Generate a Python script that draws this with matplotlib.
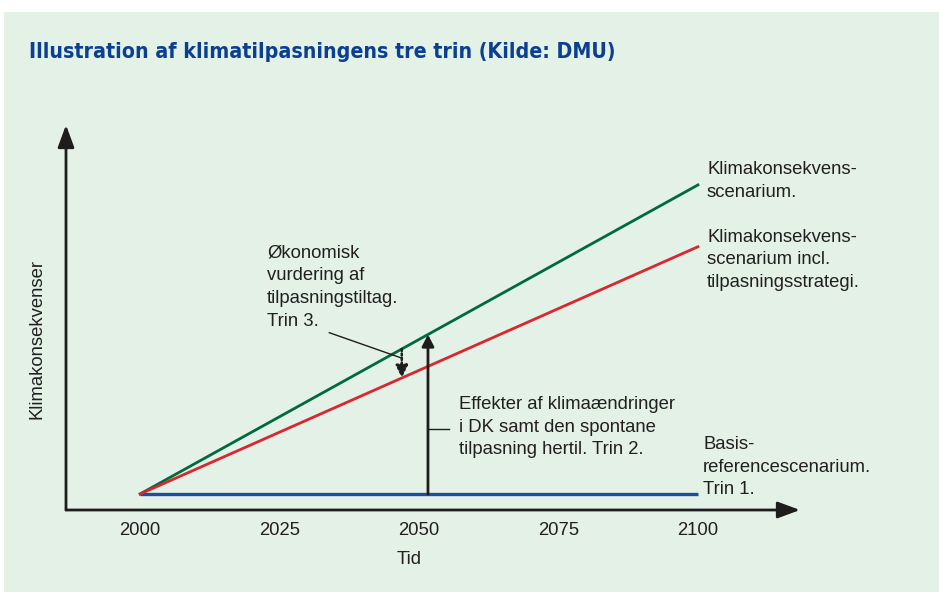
import matplotlib.pyplot as plt
from matplotlib.patches import Rectangle

# data
years = [2000, 2100]
basis = [0, 0]
klima = [0, 100]
klima_strategi = [0, 80]
xticks = [2000, 2025, 2050, 2075, 2100]
trin2_year = 2051.6
trin3_year = 2046.9

BG = "#e3f1e7"
GREEN = "#00693e"
RED = "#d8272f"
BLUE = "#1b4f9c"
AX = "#1e1c1d"
TXT = "#231f20"
TITLE = "#0b3f91"
FS = 13.3

plt.rcParams["font.family"] = ["Liberation Sans", "DejaVu Sans"]

W, H = 939, 592
fig = plt.figure(figsize=(W / 100, H / 100), dpi=100)
fig.patch.set_facecolor("white")
fig.patches.append(Rectangle((4 / W, 0), 1, 1 - 12 / H, transform=fig.transFigure,
                             facecolor=BG, edgecolor="none", zorder=-10))


def fx(x, y):
    # pixel position -> figure fraction
    return x / W, 1 - y / H


fig.text(*fx(29, 52), "Illustration af klimatilpasningens tre trin (Kilde: DMU)",
         fontsize=15.3, fontweight="bold", color=TITLE, va="center", ha="left",
         family="DejaVu Sans", fontstretch="condensed")

# axes: pixel box x 66..800, y 125..510
ax = fig.add_axes([66 / W, 1 - 510 / H, (800 - 66) / W, (510 - 125) / H])
ax.set_zorder(5)
ax.patch.set_alpha(0)
x0, x1 = 1986.7, 2118.3
y0, y1 = -5.2, 119.4
ax.set_xlim(x0, x1)
ax.set_ylim(y0, y1)
for s in ax.spines.values():
    s.set_visible(False)
ax.set_yticks([])
ax.set_xticks(xticks)
ax.tick_params(axis="x", length=0, pad=8.6, labelsize=FS, colors=TXT)

fig.text(*fx(409, 560), "Tid", fontsize=FS, color=TXT, ha="center", va="center")
fig.text(*fx(37, 339), "Klimakonsekvenser", fontsize=FS, color=TXT, ha="center",
         va="center", rotation=90)


def dpos(x, y):
    # pixel position -> data coords of ax
    return (x0 + (x - 66) / 734 * (x1 - x0), y0 + (510 - y) / 385 * (y1 - y0))


# axis arrows
head = "-|>,head_length=1.35,head_width=0.5"
ax.annotate("", xy=(x1, y0), xytext=(x0, y0),
            arrowprops=dict(arrowstyle=head, color=AX, lw=2.0, shrinkA=0, shrinkB=0),
            annotation_clip=False)
ax.annotate("", xy=(x0, y1), xytext=(x0, y0),
            arrowprops=dict(arrowstyle=head, color=AX, lw=2.0, shrinkA=0, shrinkB=0),
            annotation_clip=False)

ax.plot(years, basis, color=BLUE, lw=2.4, solid_capstyle="butt", zorder=3)
ax.plot(years, klima, color=GREEN, lw=2.0, zorder=3)
ax.plot(years, klima_strategi, color=RED, lw=2.0, zorder=3)

slope_g = (klima[1] - klima[0]) / (years[1] - years[0])
slope_r = (klima_strategi[1] - klima_strategi[0]) / (years[1] - years[0])

# Trin 2 arrow
g2 = slope_g * (trin2_year - 2000)
ax.annotate("", xy=(trin2_year, g2), xytext=(trin2_year, 0),
            arrowprops=dict(arrowstyle="-|>,head_length=0.7,head_width=0.36",
                            color=AX, lw=2.0, shrinkA=0, shrinkB=0), zorder=4)
la, lb = dpos(430, 429.3), dpos(449.3, 429.3)
ax.plot([trin2_year, lb[0]], [la[1], lb[1]], color=AX, lw=1.0, zorder=4)
ax.text(*dpos(459, 427),
        "Effekter af klimaændringer\ni DK samt den spontane\ntilpasning hertil. Trin 2.",
        fontsize=FS, va="center", ha="left", linespacing=1.41, color=TXT)

# Trin 3 dotted arrow
g3 = slope_g * (trin3_year - 2000)
r3 = slope_r * (trin3_year - 2000)
ax.annotate("", xy=(trin3_year, r3), xytext=(trin3_year, g3),
            arrowprops=dict(arrowstyle="-|>,head_length=0.75,head_width=0.36",
                            color=AX, lw=1.8, ls=(0, (0.8, 1.0)), shrinkA=0, shrinkB=0),
            zorder=4)
ta, tb = dpos(329.3, 332.7), dpos(402.3, 358.3)
ax.plot([ta[0], tb[0]], [ta[1], tb[1]], color=AX, lw=1.0, zorder=4)
ax.text(*dpos(267, 287), "Økonomisk\nvurdering af\ntilpasningstiltag.\nTrin 3.",
        fontsize=FS, va="center", ha="left", linespacing=1.45, color=TXT)

# end labels
ax.text(*dpos(707, 181), "Klimakonsekvens-\nscenarium.", fontsize=FS, va="center",
        ha="left", linespacing=1.41, color=TXT)
ax.text(*dpos(707, 260), "Klimakonsekvens-\nscenarium incl.\ntilpasningsstrategi.",
        fontsize=FS, va="center", ha="left", linespacing=1.41, color=TXT)
ax.text(*dpos(703, 467), "Basis-\nreferencescenarium.\nTrin 1.", fontsize=FS, va="center",
        ha="left", linespacing=1.41, color=TXT)

fig.savefig("out.png", dpi=100, facecolor=fig.get_facecolor())
